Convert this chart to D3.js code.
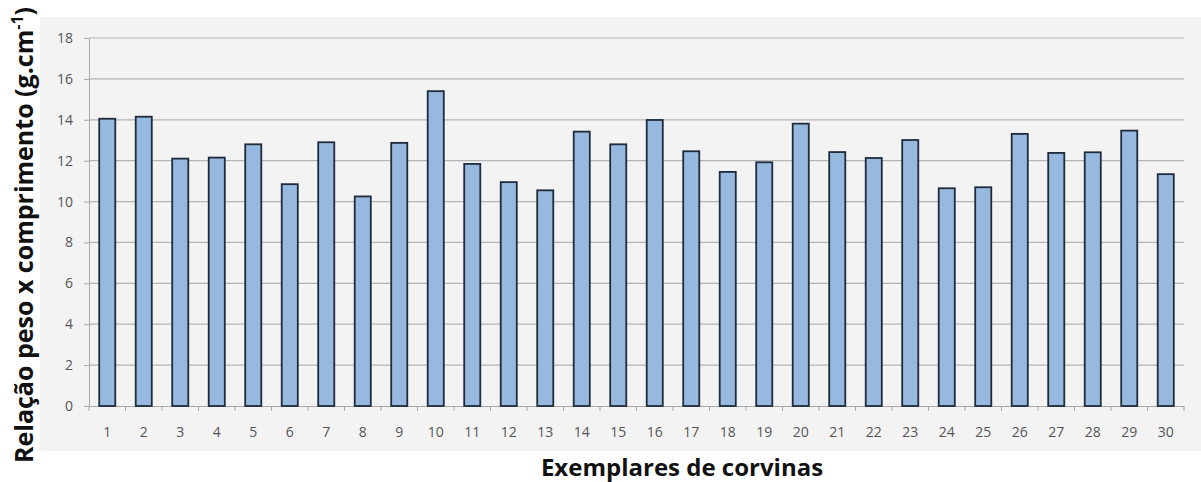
<!DOCTYPE html>
<html>
<head>
<meta charset="utf-8">
<script src="https://cdn.jsdelivr.net/npm/d3@7"></script>
<style>
  body { margin: 0; background: #fff; }
  svg { display: block; }
</style>
</head>
<body>
<div id="chart"></div>
<script>
// Data
const exemplares = d3.range(1, 31).map(String);
const relacao = [14.05, 14.15, 12.1, 12.15, 12.8, 10.85, 12.9, 10.25, 12.87, 15.4,
                 11.84, 10.95, 10.55, 13.42, 12.8, 13.99, 12.46, 11.45, 11.92, 13.81,
                 12.42, 12.13, 13.01, 10.65, 10.7, 13.31, 12.38, 12.41, 13.47, 11.34];
const yTicks = [0, 2, 4, 6, 8, 10, 12, 14, 16, 18];

const width = 1201, height = 482;
const margin = { top: 38, right: 17, bottom: 76, left: 89 };
const chartWidth = width - margin.left - margin.right;
const chartHeight = height - margin.top - margin.bottom;

const svg = d3.select("#chart")
    .append("svg")
    .attr("width", width)
    .attr("height", height);

// Chart area background
svg.append("rect")
    .attr("x", 40)
    .attr("y", 17)
    .attr("width", width - 40)
    .attr("height", 434)
    .attr("fill", "#f3f3f3");

const g = svg.append("g")
    .attr("transform", `translate(${margin.left},${margin.top})`);

const xScale = d3.scaleBand()
    .domain(exemplares)
    .range([0, chartWidth])
    .paddingInner(0.56)
    .paddingOuter(0.28);

const yScale = d3.scaleLinear()
    .domain([0, 18])
    .range([chartHeight, 0]);

// Grid lines
g.append("g")
    .selectAll("line")
    .data(yTicks.filter(d => d > 0))
    .enter()
    .append("line")
    .attr("x1", 0)
    .attr("x2", chartWidth)
    .attr("y1", d => yScale(d))
    .attr("y2", d => yScale(d))
    .attr("stroke", "#b4b4b4")
    .attr("stroke-width", 1.2);

// Y axis
const yAxis = g.append("g")
    .call(d3.axisLeft(yScale).tickValues(yTicks).tickSize(5).tickPadding(11));
yAxis.select(".domain").attr("stroke", "#a8a8a8");
yAxis.selectAll(".tick line").attr("stroke", "#a8a8a8");
yAxis.selectAll("text")
    .attr("fill", "#555")
    .style("font-family", "'Open Sans', sans-serif")
    .style("font-size", "14px");

// X axis
const step = xScale.step();
const xAxis = g.append("g")
    .attr("transform", `translate(0,${chartHeight})`)
    .call(d3.axisBottom(xScale).tickSize(0).tickPadding(21));
xAxis.select(".domain").attr("stroke", "#a8a8a8");
xAxis.selectAll("text")
    .attr("fill", "#555")
    .style("font-family", "'Open Sans', sans-serif")
    .style("font-size", "14px");

// Category separator ticks
g.append("g")
    .selectAll("line")
    .data(d3.range(0, exemplares.length + 1))
    .enter()
    .append("line")
    .attr("x1", i => i * step)
    .attr("x2", i => i * step)
    .attr("y1", chartHeight)
    .attr("y2", chartHeight + 5)
    .attr("stroke", "#a8a8a8");

// Bars
g.selectAll(".bar")
    .data(relacao)
    .enter()
    .append("rect")
    .attr("class", "bar")
    .attr("x", (d, i) => xScale(exemplares[i]))
    .attr("y", d => yScale(d))
    .attr("width", xScale.bandwidth())
    .attr("height", d => chartHeight - yScale(d))
    .attr("fill", "#98b9df")
    .attr("stroke", "#1e2b3b")
    .attr("stroke-width", 1.8);

// Axis titles
svg.append("text")
    .attr("x", 682)
    .attr("y", 476)
    .attr("text-anchor", "middle")
    .attr("fill", "#111")
    .style("font-family", "'Open Sans', sans-serif")
    .style("font-weight", "bold")
    .style("font-size", "24px")
    .text("Exemplares de corvinas");

const yTitle = svg.append("text")
    .attr("transform", "translate(33,235) rotate(-90)")
    .attr("text-anchor", "middle")
    .attr("fill", "#111")
    .style("font-family", "'Open Sans', sans-serif")
    .style("font-weight", "bold")
    .style("font-size", "25px");
yTitle.append("tspan").text("Relação peso x comprimento (g.cm");
yTitle.append("tspan").attr("dy", -10).style("font-size", "16px").text("-1");
yTitle.append("tspan").attr("dy", 10).text(")");
</script>
</body>
</html>
